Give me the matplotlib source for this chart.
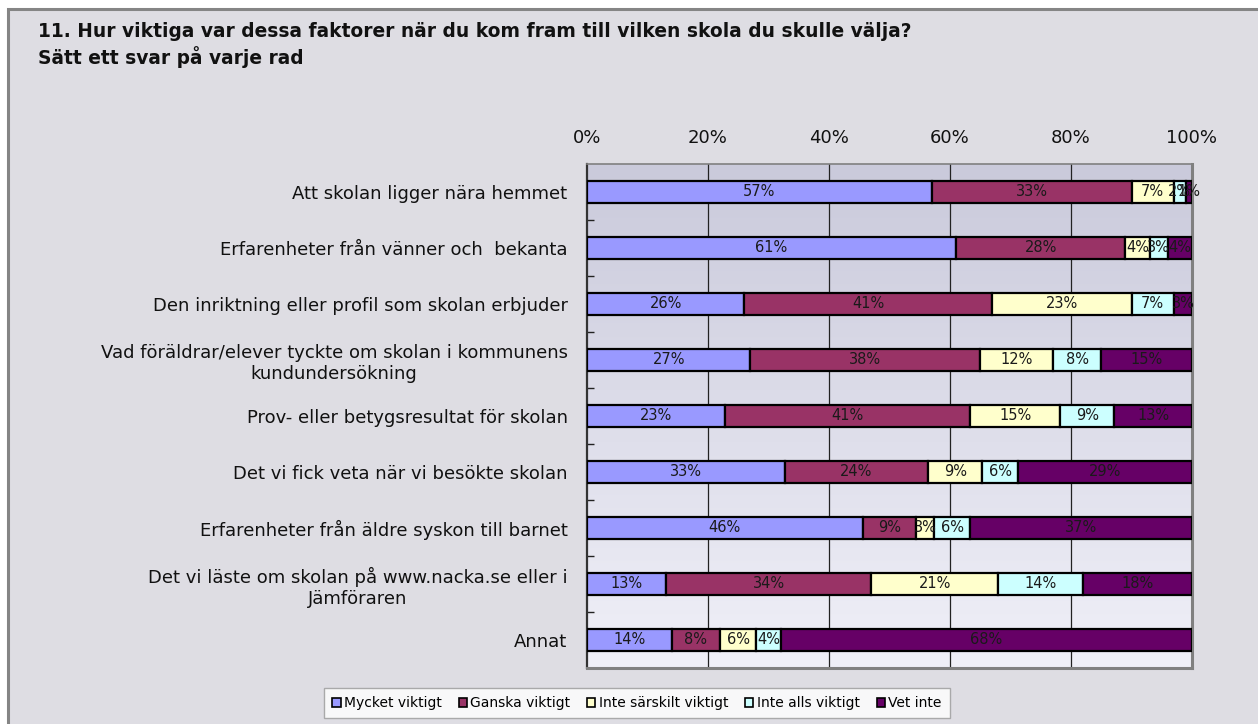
import numpy as np
import matplotlib
matplotlib.use("Agg")
from matplotlib import pyplot as plt
from matplotlib.patches import Rectangle

# answers per factor, in percent (as printed on the bars)
categories = [
    "Att skolan ligger nära hemmet",
    "Erfarenheter från vänner och  bekanta",
    "Den inriktning eller profil som skolan erbjuder",
    "Vad föräldrar/elever tyckte om skolan i kommunens\nkundundersökning",
    "Prov- eller betygsresultat för skolan",
    "Det vi fick veta när vi besökte skolan",
    "Erfarenheter från äldre syskon till barnet",
    "Det vi läste om skolan på www.nacka.se eller i\nJämföraren",
    "Annat",
]
series_names = ["Mycket viktigt", "Ganska viktigt", "Inte särskilt viktigt",
                "Inte alls viktigt", "Vet inte"]
mycket = [57, 61, 26, 27, 23, 33, 46, 13, 14]
ganska = [33, 28, 41, 38, 41, 24, 9, 34, 8]
inte_sarskilt = [7, 4, 23, 12, 15, 9, 3, 21, 6]
inte_alls = [2, 3, 7, 8, 9, 6, 6, 14, 4]
vet_inte = [1, 4, 3, 15, 13, 29, 37, 18, 68]
x_ticks = [0, 20, 40, 60, 80, 100]
x_labels = ["0%", "20%", "40%", "60%", "80%", "100%"]

colors = ["#9999FF", "#993366", "#FFFFCC", "#CCFFFF", "#660066"]

W, H = 1258, 724
fig = plt.figure(figsize=(W / 100, H / 100), dpi=100, facecolor="white")

# grey panel with border on top/left
fig.patches.append(Rectangle((8 / W, -0.1), 1.2, 1.1 - 9 / H, transform=fig.transFigure,
                             facecolor="#DEDDE3", edgecolor="#858585", linewidth=2.2,
                             zorder=-10))

fig.text(38 / W, 1 - 22 / H,
         "11. Hur viktiga var dessa faktorer när du kom fram till vilken skola du skulle välja?\n"
         "Sätt ett svar på varje rad",
         ha="left", va="top", fontsize=13.4, fontweight="bold", linespacing=1.3,
         color="#111111")

ax = fig.add_axes([587 / W, 1 - 668 / H, (1192 - 587) / W, (668 - 164) / H])
ax.set_facecolor("none")

# vertical gradient background of the plot area
grad = np.linspace(0, 1, 256).reshape(-1, 1)
cmap = matplotlib.colors.LinearSegmentedColormap.from_list("bg", ["#CACADB", "#F0F0F8"])
ax.imshow(grad, cmap=cmap, aspect="auto", extent=[0, 100, 8.5, -0.5], zorder=0)

data = np.array([mycket, ganska, inte_sarskilt, inte_alls, vet_inte], dtype=float)
totals = data.sum(axis=0)
shares = data / totals * 100
ypos = np.arange(len(categories))
left = np.zeros(len(categories))
for i, name in enumerate(series_names):
    ax.barh(ypos, shares[i], left=left, height=0.4, color=colors[i],
            edgecolor="black", linewidth=1.6, label=name, zorder=3)
    for j in range(len(categories)):
        ax.text(left[j] + shares[i][j] / 2, ypos[j], f"{int(data[i][j])}%",
                ha="center", va="center", fontsize=10.5, color="#1a1a1a",
                family=["Liberation Sans Narrow", "DejaVu Sans"], zorder=4)
    left += shares[i]

ax.set_xlim(0, 100)
ax.set_ylim(8.5, -0.5)

for gx in x_ticks[1:-1]:
    ax.axvline(gx, color="#222222", linewidth=0.9, zorder=1)

ax.xaxis.tick_top()
ax.set_xticks(x_ticks)
ax.set_xticklabels(x_labels, fontsize=13, color="#111111")
ax.tick_params(axis="x", length=0, pad=12)

ax.set_yticks(ypos)
ax.set_yticklabels(categories, fontsize=13, color="#111111", multialignment="center")
ax.tick_params(axis="y", which="major", length=0, pad=14)
ax.set_yticks(np.arange(0.5, len(categories), 1), minor=True)
ax.tick_params(axis="y", which="minor", length=5, direction="in", width=1, color="#222222")

ax.spines["left"].set_color("#333333")
ax.spines["left"].set_linewidth(1.6)
ax.spines["top"].set_color("#808080")
ax.spines["top"].set_linewidth(1.2)
ax.spines["right"].set_color("#808080")
ax.spines["right"].set_linewidth(2.2)
ax.spines["bottom"].set_color("#808080")
ax.spines["bottom"].set_linewidth(2.2)

handles, labels = ax.get_legend_handles_labels()
leg = fig.legend(handles, labels, loc="center", ncol=5,
                 bbox_to_anchor=(637 / W, 1 - 703 / H), fontsize=10,
                 frameon=True, fancybox=False, edgecolor="#999999",
                 handlelength=0.6, handleheight=0.6, handletextpad=0.25,
                 columnspacing=1.2, borderpad=0.6)
leg.get_frame().set_linewidth(1.0)
for h in leg.legend_handles:
    h.set_linewidth(1.2)

fig.savefig("out.png", dpi=100, facecolor="white")
